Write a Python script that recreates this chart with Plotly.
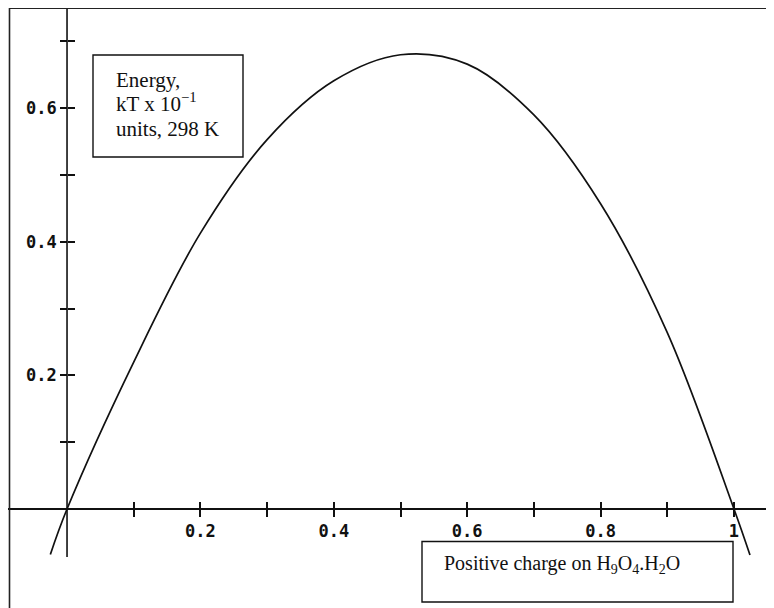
import plotly.graph_objects as go

# Data
charge = [-0.025, 0.0, 0.1, 0.2, 0.3, 0.4, 0.5, 0.6, 0.7, 0.8, 0.9, 1.0, 1.024]
energy = [-0.068, 0.0, 0.220, 0.413, 0.553, 0.641, 0.680, 0.666, 0.590, 0.457, 0.264, 0.0, -0.069]

x_tick_vals = [0.1, 0.2, 0.3, 0.4, 0.5, 0.6, 0.7, 0.8, 0.9, 1.0]
x_tick_text = ["", "0.2", "", "0.4", "", "0.6", "", "0.8", "", "1"]
y_tick_vals = [0.1, 0.2, 0.3, 0.4, 0.5, 0.6, 0.7]
y_tick_text = ["", "0.2", "", "0.4", "", "0.6", ""]

OFF = 8  # page body margin
W, H = 766, 600
L, R, T, B = 0, 1, 0, 3
PW, PH = W - L - R, H - T - B
X_RANGE = [-0.0885, 1.0585]
Y_RANGE = [-0.1437, 0.750]


def px(xp):
    # reference-pixel x -> paper fraction
    return (xp - OFF - L) / PW


def py(yp):
    # reference-pixel y -> paper fraction
    return (H - B - (yp - OFF)) / PH


x0_paper = (0 - X_RANGE[0]) / (X_RANGE[1] - X_RANGE[0])
y0_paper = (0 - Y_RANGE[0]) / (Y_RANGE[1] - Y_RANGE[0])

tick_font = dict(family="DejaVu Sans Mono", size=17, color="#111", weight=600)
serif = "Liberation Serif"

fig = go.Figure()
fig.add_trace(go.Scatter(x=charge, y=energy, mode="lines",
                         line=dict(color="#111", width=1.7, shape="spline", smoothing=1.0),
                         showlegend=False, hoverinfo="skip"))
# invisible companion trace so the overlaid tick axes render
fig.add_trace(go.Scatter(x=charge, y=energy, mode="lines", xaxis="x2", yaxis="y2",
                         line=dict(color="rgba(0,0,0,0)", width=0),
                         showlegend=False, hoverinfo="skip"))

common_x = dict(range=X_RANGE, showgrid=False, zeroline=False, showline=False,
                tickvals=x_tick_vals, ticklen=7, tickwidth=1.5, tickcolor="#111",
                anchor="free", position=y0_paper)
common_y = dict(range=Y_RANGE, showgrid=False, showline=False,
                tickvals=y_tick_vals, ticklen=7, tickwidth=1.5, tickcolor="#111",
                anchor="free", position=x0_paper)

fig.update_layout(
    width=W, height=H,
    margin=dict(l=L, r=R, t=T, b=B),
    paper_bgcolor="white", plot_bgcolor="white",
    xaxis=dict(**common_x, side="bottom", ticks="outside", ticktext=x_tick_text,
               tickfont=tick_font),
    xaxis2=dict(**common_x, side="top", ticks="outside", overlaying="x",
                showticklabels=False),
    yaxis=dict(**common_y, side="left", ticks="outside", ticktext=y_tick_text,
               tickfont=tick_font, zeroline=True, zerolinecolor="#111", zerolinewidth=1.6),
    yaxis2=dict(**common_y, side="right", ticks="outside", overlaying="y",
                showticklabels=False, zeroline=False),
)

shapes = []
# y-axis line
shapes.append(dict(type="line", xref="x", yref="y", x0=0, x1=0, y0=-0.072, y1=Y_RANGE[1],
                   line=dict(color="#111", width=1.6)))
# frame: top, left, faint right
shapes.append(dict(type="line", xref="paper", yref="paper", x0=px(9), x1=px(774), y0=py(8), y1=py(8),
                   line=dict(color="#222", width=2)))
shapes.append(dict(type="line", xref="paper", yref="paper", x0=px(9.5), x1=px(9.5), y0=py(8), y1=py(608),
                   line=dict(color="#222", width=1.6)))
shapes.append(dict(type="line", xref="paper", yref="paper", x0=px(772.5), x1=px(772.5), y0=py(8), y1=py(608),
                   line=dict(color="#ccc", width=1)))
# label boxes
shapes.append(dict(type="rect", xref="paper", yref="paper", x0=px(93), x1=px(243), y0=py(55), y1=py(157),
                   line=dict(color="#111", width=1.4), fillcolor="white"))
shapes.append(dict(type="rect", xref="paper", yref="paper", x0=px(422), x1=px(733), y0=py(541.5), y1=py(602),
                   line=dict(color="#111", width=1.4), fillcolor="white"))
fig.update_layout(shapes=shapes)

box_lines = [("Energy,", 80), ("kT x 10<sup>−1</sup>", 103), ("units, 298 K", 129)]
for txt, yy in box_lines:
    fig.add_annotation(xref="paper", yref="paper", x=px(114), y=py(yy), xanchor="left", yanchor="middle",
                       text=txt, showarrow=False, align="left",
                       font=dict(family=serif, size=21, color="#111"))
fig.add_annotation(xref="paper", yref="paper", x=px(442), y=py(564), xanchor="left", yanchor="middle",
                   text="Positive charge on H<sub>9</sub>O<sub>4</sub>.H<sub>2</sub>O", showarrow=False,
                   align="left", font=dict(family=serif, size=20, color="#111"))

fig.write_html("out.html")
